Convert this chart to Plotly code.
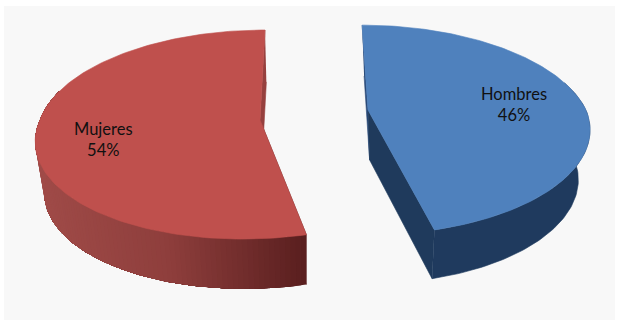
import numpy as np
import plotly.graph_objects as go

categories = ["Hombres", "Mujeres"]
values = [46, 54]

W, H = 621, 322
PANEL = "#f8f8f8"
# per-slice projection of the tilted, exploded pie
VIEW = {
    "Hombres": dict(cx=368, cy=110, A=218, B=101, k=0.19, Dt=-7, Db=0, depth=50, sx=0.94, sy=0.99, pivot=395,
                    top="#4f81bd", walls=[(0, "#1f3a5e"), (1, "#1e3756")], cut="#1f3a5c", back="#2a4a78",
                    label=(514, 104)),
    "Mujeres": dict(cx=260, cy=120, A=220, B=102.5, k=0.139, Dt=5.7, Db=15, depth=51, sx=0.967, sy=0.99, pivot=306,
                    top="#bf504d", walls=[(0, "#a04b48"), (0.5, "#8e3e3c"), (1, "#5a1f1f")], cut="#96403e", back="#5a1f1f",
                    label=(103, 139)),
}


def project(p, theta):
    u, v = np.sin(theta), np.cos(theta)
    s = 1 / (1 + p["k"] * v)
    D = np.where(v > 0, p["Dt"], p["Db"])
    return p["cx"] + (p["A"] * u + D * v) * s, p["cy"] - p["B"] * v * s


def lower(p, x, y):
    return (p["pivot"] + (x - p["pivot"]) * p["sx"],
            p["cy"] + p["depth"] + (y - p["cy"]) * p["sy"])


def mix(stops, t):
    t = float(np.clip(t, 0, 1))
    for (t0, c0), (t1, c1) in zip(stops, stops[1:]):
        if t <= t1:
            f = (t - t0) / (t1 - t0)
            a = [int(c0[i:i + 2], 16) for i in (1, 3, 5)]
            b = [int(c1[i:i + 2], 16) for i in (1, 3, 5)]
            return "rgb(%d,%d,%d)" % tuple(round(m + (n - m) * f) for m, n in zip(a, b))
    return stops[-1][1]


def poly(fig, xs, ys, color, lw=0.6):
    fig.add_trace(go.Scatter(x=list(xs), y=list(ys), mode="lines", fill="toself", fillcolor=color,
                             line=dict(color=color, width=lw), hoverinfo="skip", showlegend=False))


fig = go.Figure()
total = sum(values)
edges = np.cumsum([0] + values) / total * 2 * np.pi

for cat, a0, a1, val in zip(categories, edges[:-1], edges[1:], values):
    p = VIEW[cat]
    th = np.linspace(a0, a1, 161)
    x, y = project(p, th)
    xl, yl = lower(p, x, y)
    ax, ay = p["cx"], p["cy"]
    axl, ayl = lower(p, ax, ay)
    # the two straight cut walls
    poly(fig, [x[0], ax, axl, xl[0]], [y[0], ay, ayl, yl[0]], p["back"])
    poly(fig, [x[-1], ax, axl, xl[-1]], [y[-1], ay, ayl, yl[-1]], p["cut"])
    # curved wall as overlapping shaded strips, painted in order so no seams show
    xmin, xmax = x.min(), x.max()
    vis = np.where(np.cos(th) <= 0.3)[0]
    if cat == "Hombres":
        poly(fig, [*x[vis], *xl[vis][::-1]], [*y[vis], *yl[vis][::-1]], p["walls"][0][1])
    else:
        for i in vis[:-1]:
            t = (x[i] - xmin) / (xmax - xmin)
            idx = np.arange(i, vis[-1] + 1)
            poly(fig, [*x[idx], *xl[idx][::-1]], [*y[idx], *yl[idx][::-1]], mix(p["walls"], t), lw=0)
    # top face
    poly(fig, [ax, *x, ax], [ay, *y, ay], p["top"])
    fig.add_annotation(x=p["label"][0], y=p["label"][1], text=f"{cat}<br>{val}%", showarrow=False,
                       font=dict(family="Lato", size=16.5, color="#111111"), align="center")

fig.update_layout(
    width=W, height=H, margin=dict(l=0, r=0, t=0, b=0), autosize=False,
    paper_bgcolor="white", plot_bgcolor="white",
    xaxis=dict(range=[0, W], visible=False, fixedrange=True),
    yaxis=dict(range=[H, 0], visible=False, fixedrange=True),
    shapes=[dict(type="rect", xref="x", yref="y", x0=4, y0=6, x1=615, y1=320, fillcolor=PANEL,
                 line=dict(width=0), layer="below")],
)
fig.write_html("out.html", config=dict(displayModeBar=False),
               post_script="document.body.style.margin='0';document.documentElement.style.overflow='hidden';")
